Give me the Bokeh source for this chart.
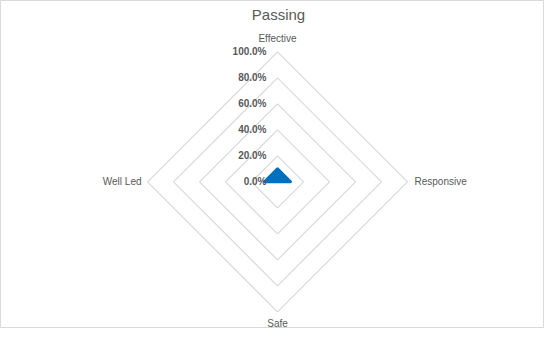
import numpy as np
from bokeh.plotting import figure
from bokeh.models import Range1d, ColumnDataSource, Label
from bokeh.core.properties import value
from bokeh.embed import file_html
from bokeh.resources import INLINE

# ---- data ----
title_text = "Passing"
categories = ["Effective", "Responsive", "Safe", "Well Led"]
series_values = [0.10, 0.10, 0.0, 0.10]
grid_levels = [0.2, 0.4, 0.6, 0.8, 1.0]
tick_values = [0.0, 0.2, 0.4, 0.6, 0.8, 1.0]
tick_labels = ["0.0%", "20.0%", "40.0%", "60.0%", "80.0%", "100.0%"]

GREY_TXT = "#595959"
GRID = "#D9D9D9"
BLUE = "#0070C0"
FONT = value("Liberation Sans")

W, H = 544, 328
R = 130.0  # pixels per 100%
cx, cy = 277.0, 181.3  # centre in figure pixels

p = figure(width=W, height=H, output_backend="svg", toolbar_location=None,
           x_range=Range1d(-cx / R, (W - cx) / R),
           y_range=Range1d(-(H - cy) / R, cy / R),
           x_axis_type=None, y_axis_type=None,
           min_border=0, min_border_left=0, min_border_right=0,
           min_border_top=0, min_border_bottom=0)
p.grid.visible = False
p.background_fill_color = "white"
p.border_fill_color = "white"
p.outline_line_color = GRID
p.outline_line_width = 1

n = len(categories)
ang = np.pi / 2 - 2 * np.pi * np.arange(n) / n
cosa, sina = np.cos(ang), np.sin(ang)

# grid diamonds
gx = [list(np.append(r * cosa, r * cosa[0])) for r in grid_levels]
gy = [list(np.append(r * sina, r * sina[0])) for r in grid_levels]
p.multi_line(gx, gy, line_color=GRID, line_width=1.2)

# series polygon
vals = np.array(series_values)
p.patch(list(vals * cosa), list(vals * sina), fill_color=BLUE, line_color=BLUE,
        line_width=3, line_join="round")

# radial tick labels
src_t = ColumnDataSource(dict(x=[0.0] * len(tick_values), y=tick_values, t=tick_labels))
p.text(x="x", y="y", text="t", source=src_t, x_offset=-11,
       text_align="right", text_baseline="middle", text_font=FONT,
       text_font_size="10px", text_font_style="bold", text_color=GREY_TXT)

# category labels
label_style = {
    0: dict(x_offset=0, y_offset=-13, text_align="center"),
    1: dict(x_offset=7, y_offset=0, text_align="left"),
    2: dict(x_offset=0, y_offset=12, text_align="center"),
    3: dict(x_offset=-6, y_offset=0, text_align="right"),
}
for i, c in enumerate(categories):
    p.text(x=[cosa[i]], y=[sina[i]], text=[c], text_baseline="middle",
           text_font=FONT, text_font_size="10px", text_color=GREY_TXT,
           **label_style[i])

# title
p.add_layout(Label(x=(286 - 8 - cx) / R, y=(cy - 14) / R, text=title_text,
                   text_align="center", text_baseline="middle",
                   text_font="Liberation Sans", text_font_size="15px",
                   text_color=GREY_TXT))

open("out.html", "w").write(file_html(p, INLINE))
